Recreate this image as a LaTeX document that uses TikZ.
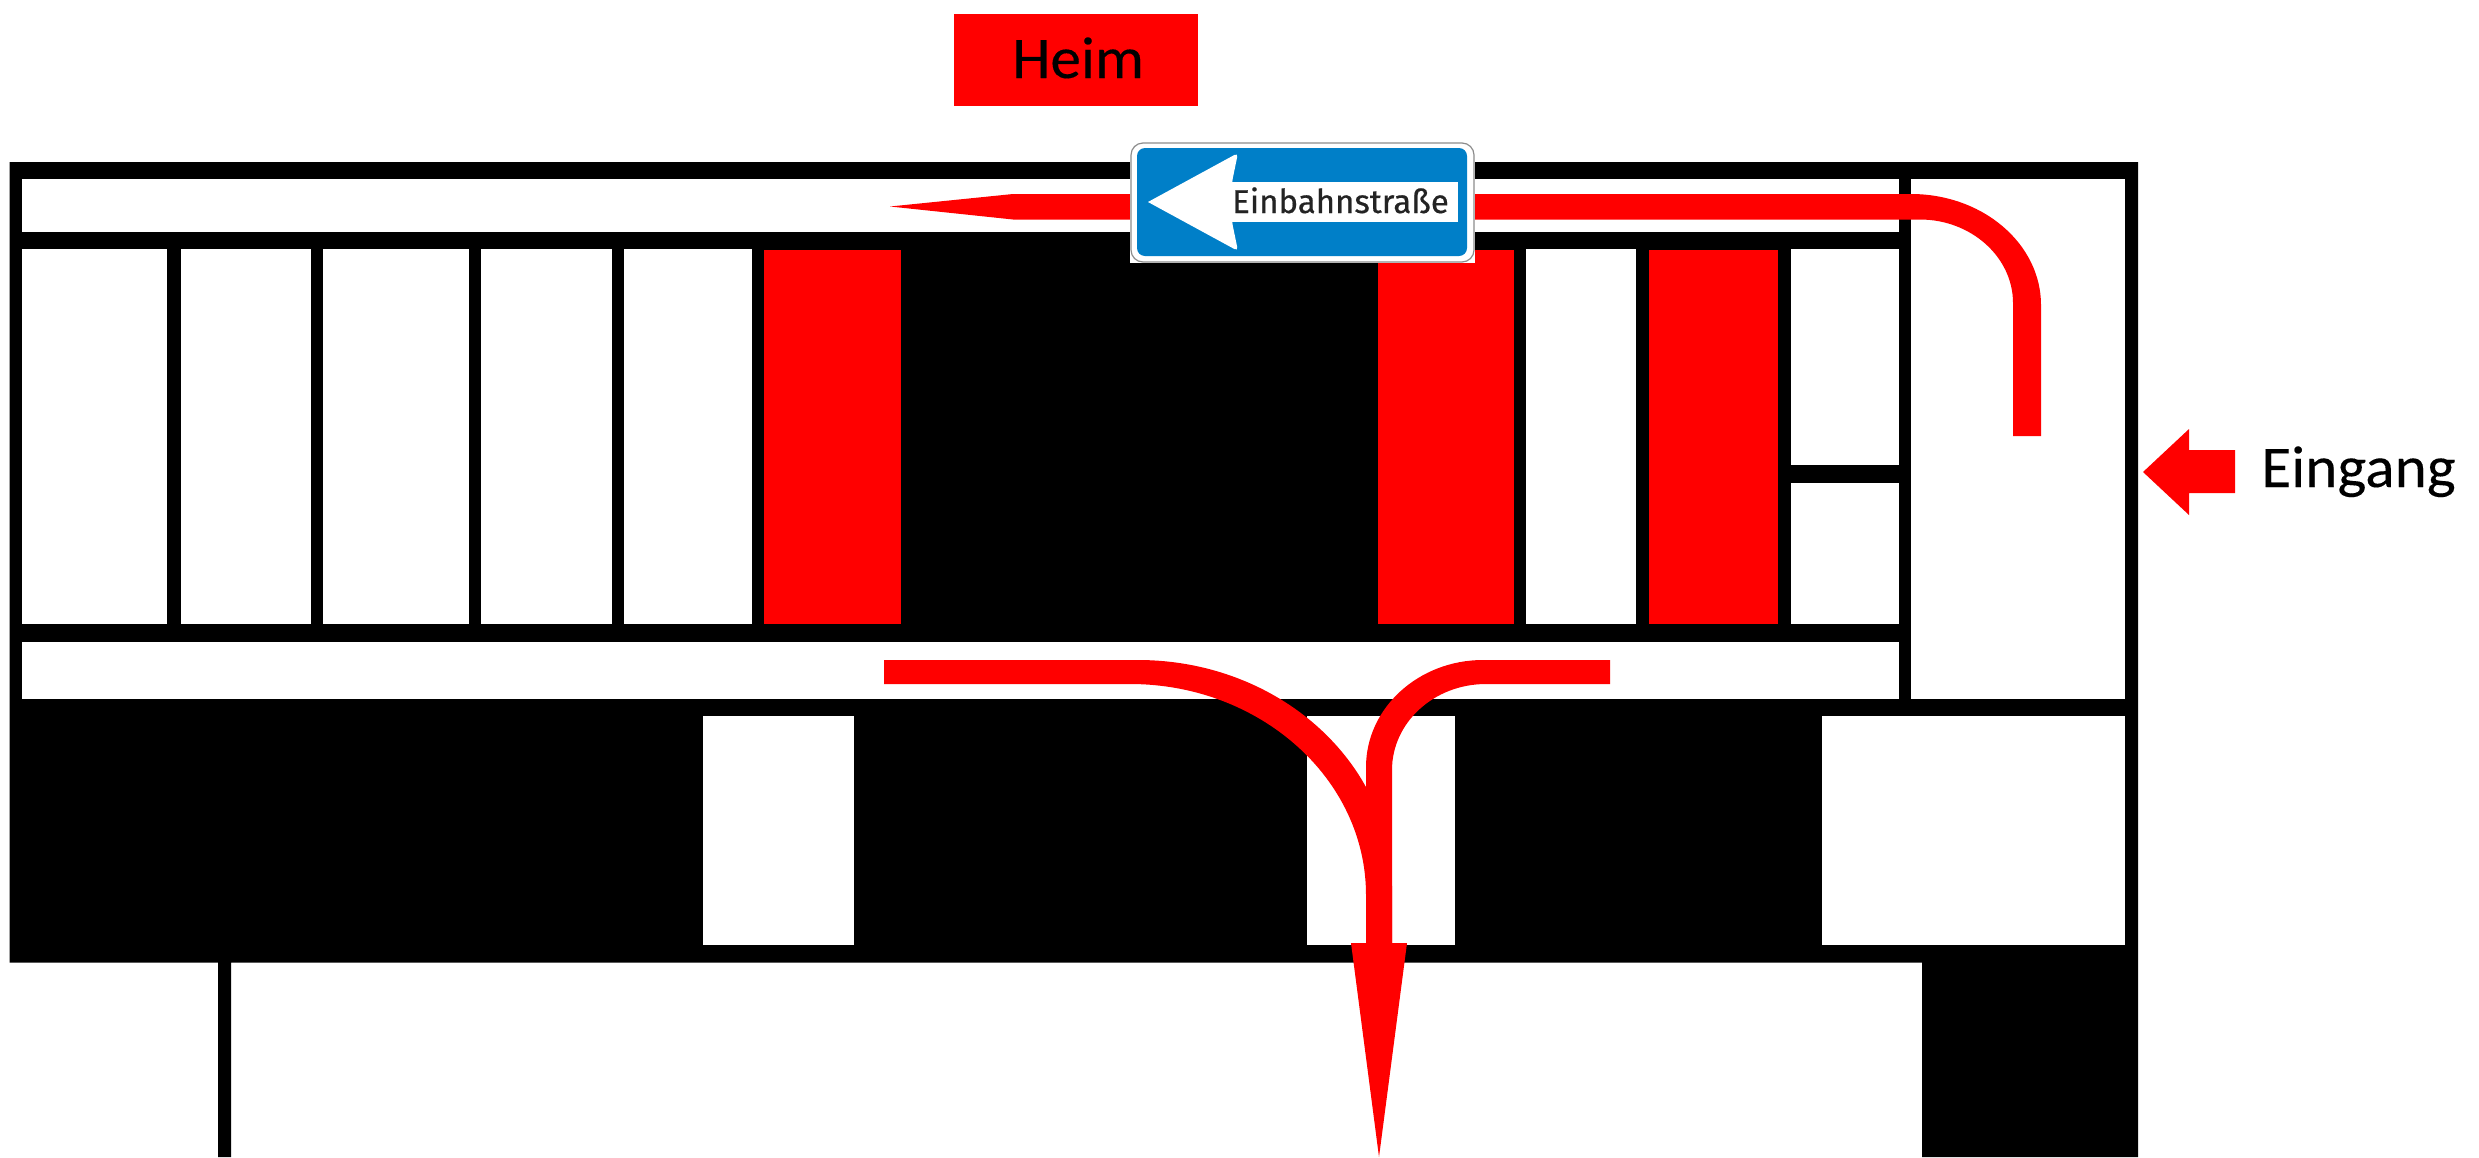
\documentclass[tikz,border=0pt]{standalone}
\usepackage{fontspec}
\setmainfont{Carlito}
\newfontfamily\labelfont[FakeStretch=1.04,FakeBold=0.2]{Carlito}
\newfontfamily\signfont[FakeBold=0.5]{Fira Sans}
\definecolor{signblue}{RGB}{0,127,200}
\definecolor{arrowred}{RGB}{255,0,0}
\definecolor{signtext}{RGB}{35,35,35}
\tikzset{
  wall/.style={fill=black,draw=none},
  room/.style={fill=white,draw=none},
  marked/.style={fill=arrowred,draw=none},
  caption/.style={inner sep=0pt,anchor=base west,text=black,font=\labelfont\fontsize{59}{62}\selectfont}
}
\begin{document}
\begin{tikzpicture}[x=1pt,y=-1pt]
\useasboundingbox (0,0) rectangle (2479,1157);
\fill[white] (0,0) rectangle (2479,1157);
% building mass
\path[wall] (9.5,162) -- (2138,162) -- (2138,1157) -- (1922,1157) -- (1922,962.5) -- (231,962.5) -- (231,1157) -- (218,1157) -- (218,962.5) -- (9.5,962.5) -- cycle;
% corridors and rooms
\path[room] (22,179) rectangle (1899,232);
\path[room] (1911,179) rectangle (2125,699);
\path[room] (22,642) rectangle (1899,699);
\foreach \a/\b in {22/167,180.5/311,323/468.5,481/611.5,624/751.5,1526/1636}
  \path[room] (\a,249) rectangle (\b,624);
\path[room] (1791,249) rectangle (1899,465);
\path[room] (1791,483) rectangle (1899,624);
\path[room] (703,716) rectangle (853.5,945);
\path[room] (1307,716) rectangle (1455,945);
\path[room] (1822,716) rectangle (2125,945);
% marked flats
\path[marked] (764,250) rectangle (901,624);
\path[marked] (1378,250) rectangle (1514,624);
\path[marked] (1649,250) rectangle (1778,624);
% upper route, drawn as an outline because its width varies
\path[marked] (2041,436) -- (2041,305)
  .. controls (2041,244) and (1983,194) .. (1911,194)
  -- (1013,194) -- (890,206.5) -- (1013,219.5) -- (1920,219.5)
  .. controls (1971,219.5) and (2013,257) .. (2013,303)
  -- (2013,436) -- cycle;
% lower routes
\path[marked] (884,660) -- (1138,660)
  .. controls (1278,660) and (1392,762) .. (1392,887)
  -- (1392,950) -- (1366,950) -- (1366,895)
  .. controls (1366,778.5) and (1260,684) .. (1130,684)
  -- (884,684) -- cycle;
\path[marked] (1610,660) -- (1483,660)
  .. controls (1418.6,660) and (1366,708) .. (1366,767)
  -- (1366,950) -- (1392,950) -- (1392,770)
  .. controls (1392,722.5) and (1434,684) .. (1486,684)
  -- (1610,684) -- cycle;
\path[marked] (1351,943) -- (1407,943) -- (1379,1157) -- cycle;
% entrance arrow
\path[marked] (2143,472) -- (2189,429) -- (2189,450) -- (2235,450) -- (2235,493) -- (2189,493) -- (2189,515) -- cycle;
\node[caption] (eingang) at (2261,487) {Eingang};
% Heim label
\path[marked] (954,14) rectangle (1198,106);
\node[caption] (heim) at (1012,78) {Heim};
% one-way sign
\fill[white] (1130,143) rectangle (1475,263);
\fill[white,draw=black!45,line width=1.2pt,rounded corners=12pt] (1131,143) rectangle (1474,262);
\fill[signblue,rounded corners=8pt] (1137,148) rectangle (1467,256);
\fill[white] (1148,202) [rounded corners=4pt] -- (1238,153) -- (1232,182) -- (1232,222) -- (1238,251) [sharp corners] -- cycle;
\fill[white] (1230,182) rectangle (1458,222);
\node[inner sep=0pt,anchor=base west,text=signtext,font=\signfont\fontsize{33}{36}\selectfont] (sign) at (1232,213) {Einbahnstraße};
\end{tikzpicture}
\end{document}
